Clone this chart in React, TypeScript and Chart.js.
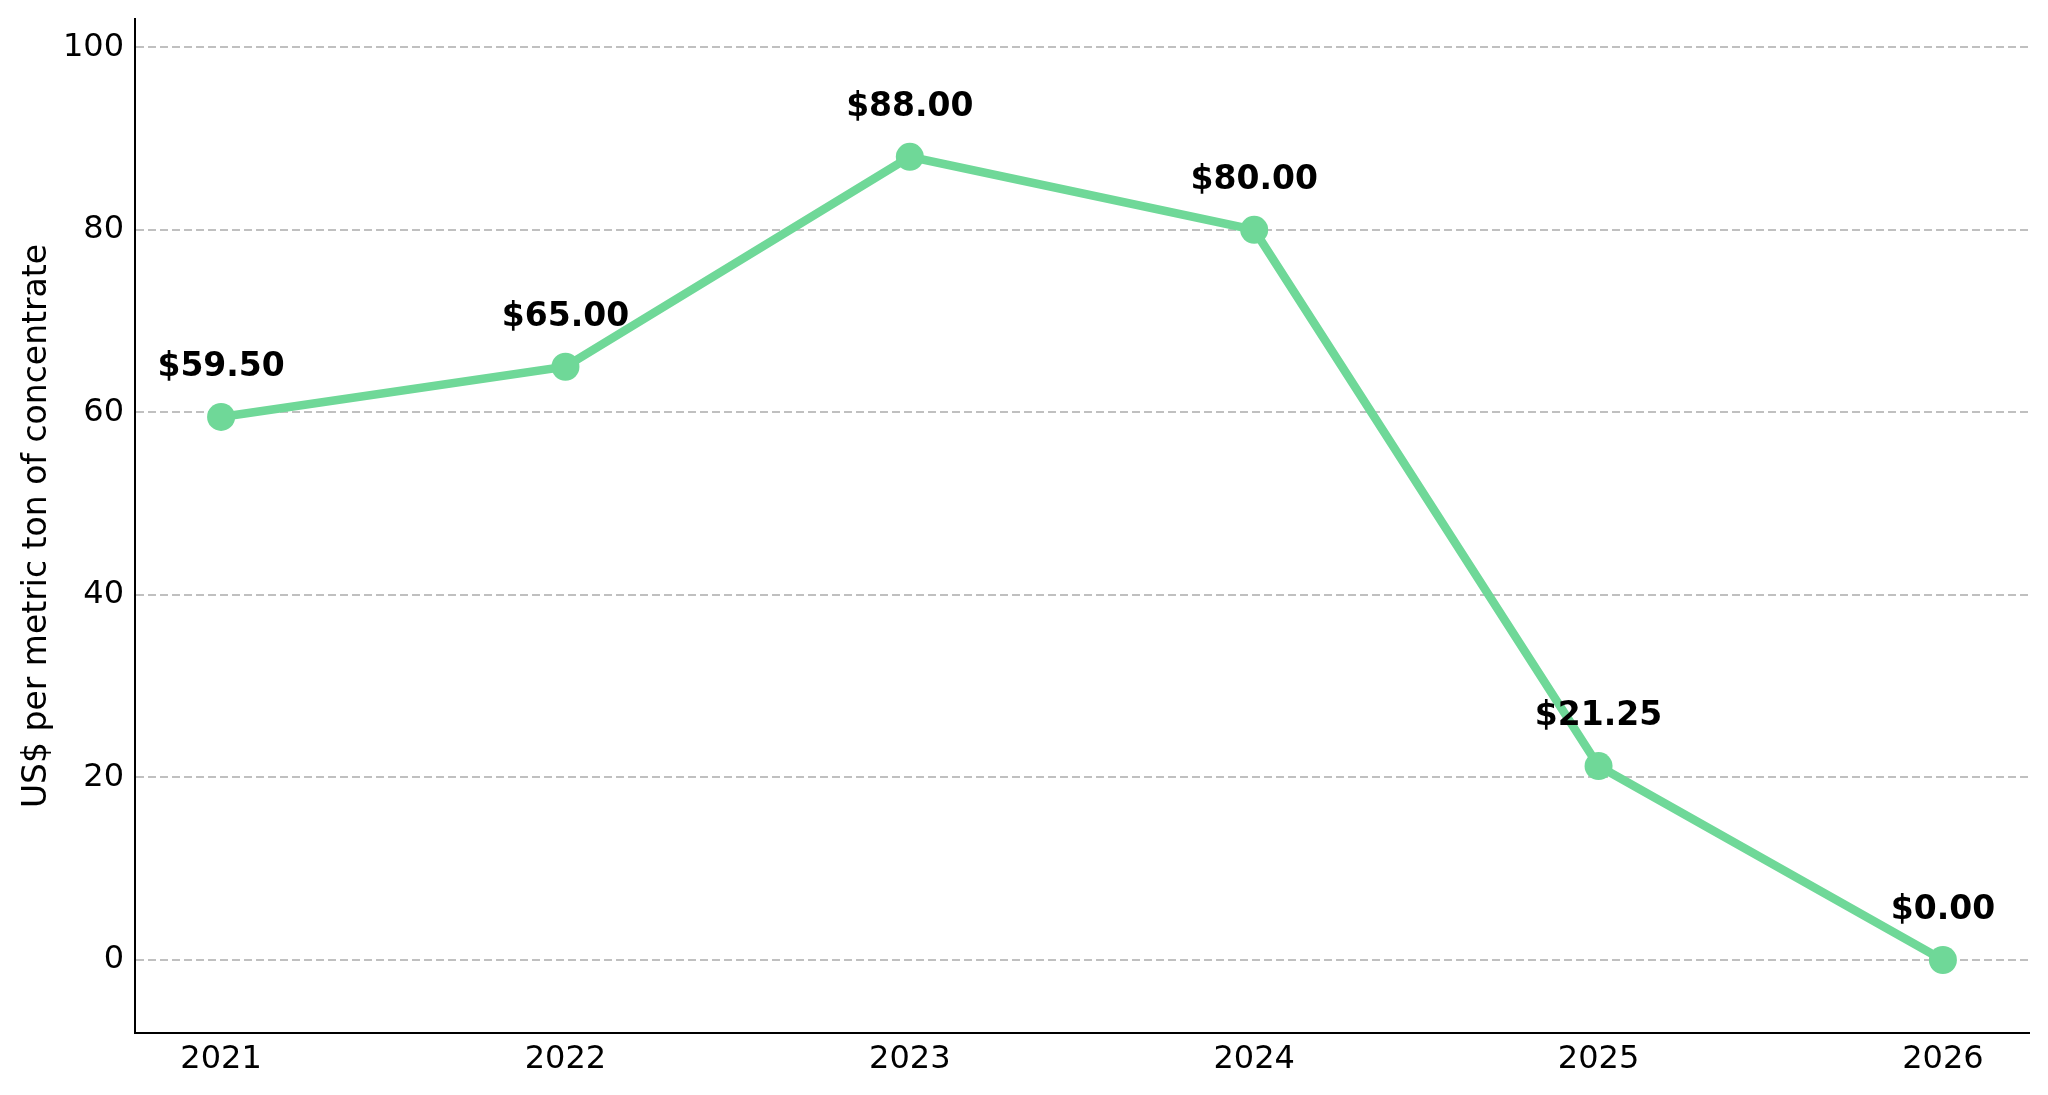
import { useEffect, useRef } from 'react';
import { Chart, registerables } from 'chart.js';

Chart.register(...registerables);

// Data
const years = [2021, 2022, 2023, 2024, 2025, 2026];
const prices = [59.5, 65.0, 88.0, 80.0, 21.25, 0.0];
const yTicks = [0, 20, 40, 60, 80, 100];

const LINE_COLOR = '#6FD898';
const FONT = '"DejaVu Sans", sans-serif';

// Draws "$xx.xx" above each point
const valueLabels = {
  id: 'valueLabels',
  afterDatasetsDraw(chart: Chart) {
    const { ctx } = chart;
    const meta = chart.getDatasetMeta(0);
    ctx.save();
    ctx.font = `bold 33px ${FONT}`;
    ctx.fillStyle = '#000000';
    ctx.textAlign = 'center';
    ctx.textBaseline = 'alphabetic';
    meta.data.forEach((pt, i) => {
      ctx.fillText(`$${prices[i].toFixed(2)}`, pt.x, pt.y - 41);
    });
    ctx.restore();
  },
};

export default function App() {
  const canvasRef = useRef<HTMLCanvasElement>(null);
  const chartRef = useRef<Chart | null>(null);

  useEffect(() => {
    document.body.style.margin = '0';
    if (!canvasRef.current) return;
    if (chartRef.current) chartRef.current.destroy();

    chartRef.current = new Chart(canvasRef.current, {
      type: 'line',
      data: {
        datasets: [
          {
            data: years.map((x, i) => ({ x, y: prices[i] })),
            borderColor: LINE_COLOR,
            backgroundColor: LINE_COLOR,
            borderWidth: 8.5,
            pointRadius: 14,
            pointBorderWidth: 0,
            pointBackgroundColor: LINE_COLOR,
            tension: 0,
          },
        ],
      },
      options: {
        animation: false,
        responsive: true,
        maintainAspectRatio: false,
        layout: { padding: { top: 19, right: 19, left: 0, bottom: 0 } },
        plugins: {
          legend: { display: false },
          tooltip: { enabled: false },
        },
        scales: {
          x: {
            type: 'linear',
            min: 2020.75,
            max: 2026.25,
            afterBuildTicks: (scale) => {
              scale.ticks = years.map((v) => ({ value: v }));
            },
            afterFit: (scale) => {
              scale.height = 62;
              scale.paddingLeft = 0;
              scale.paddingRight = 0;
            },
            grid: { color: 'rgba(0,0,0,0)', drawTicks: false },
            border: { display: true, color: '#000000', width: 2 },
            ticks: {
              color: '#000000',
              font: { family: FONT, size: 32 },
              padding: 7,
              maxRotation: 0,
              callback: (v) => String(v),
            },
          },
          y: {
            type: 'linear',
            min: -8,
            max: 103.1,
            afterBuildTicks: (scale) => {
              scale.ticks = yTicks.map((v) => ({ value: v }));
            },
            afterFit: (scale) => {
              scale.width = 135;
              scale.paddingTop = 0;
              scale.paddingBottom = 0;
            },
            grid: { color: '#c0c0c0', lineWidth: 2, drawTicks: false },
            border: { display: true, color: '#000000', width: 2, dash: [8, 4] },
            ticks: {
              color: '#000000',
              font: { family: FONT, size: 32 },
              padding: 11,
            },
            title: {
              display: true,
              text: 'US$ per metric ton of concentrate',
              color: '#000000',
              font: { family: FONT, size: 33 },
              padding: { top: 18, bottom: 0 },
            },
          },
        },
      },
      plugins: [valueLabels],
    });

    return () => {
      if (chartRef.current) {
        chartRef.current.destroy();
        chartRef.current = null;
      }
    };
  }, []);

  return (
    <div style={{ position: 'relative', width: 2048, height: 1095 }}>
      <canvas ref={canvasRef}></canvas>
    </div>
  );
}
